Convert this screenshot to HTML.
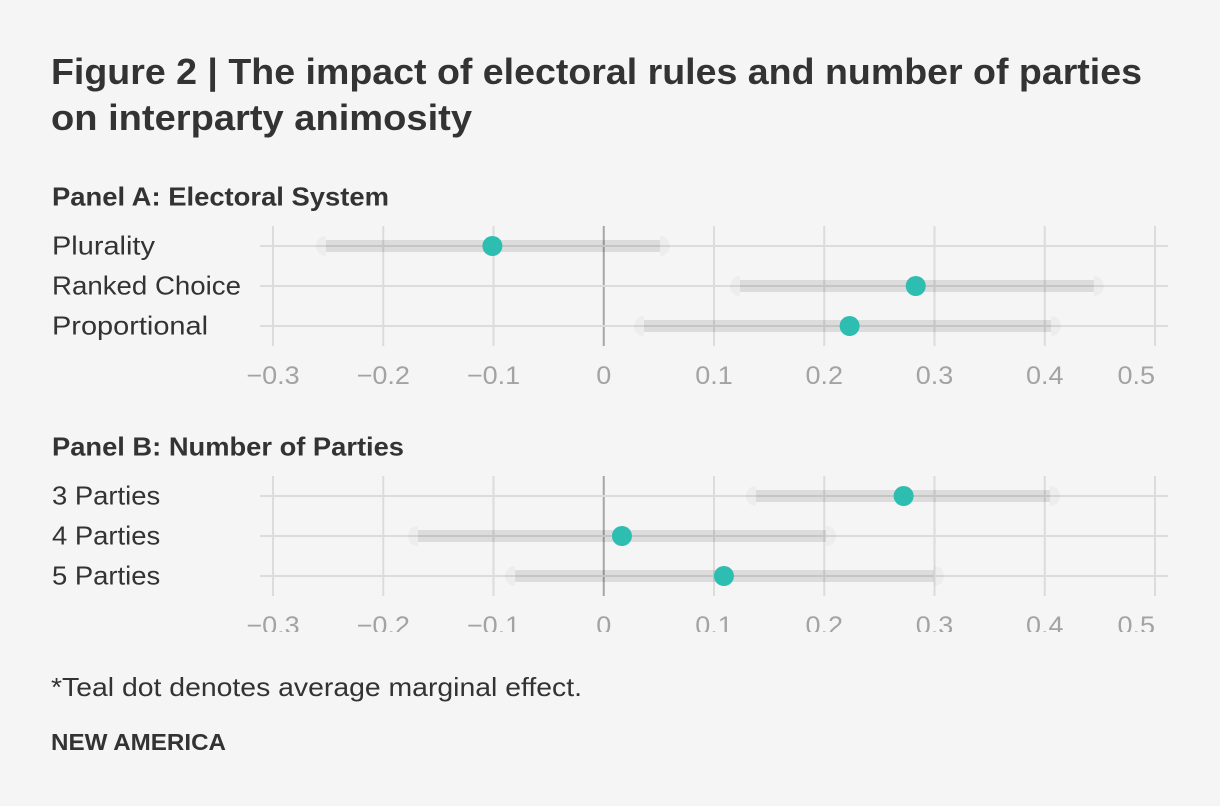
<!DOCTYPE html>
<html lang="en">
<head>
<meta charset="utf-8">
<title>Figure 2</title>
<style>
html,body{margin:0;padding:0;background:#f5f5f5;}
body{width:1220px;height:806px;overflow:hidden;}
svg{display:block;font-family:"Liberation Sans",sans-serif;}
</style>
</head>
<body>
<svg id="chart" width="1220" height="806" viewBox="0 0 1220 806">
  <defs>
    <clipPath id="clip-b"><rect x="0" y="440" width="1220" height="192"></rect></clipPath>
  </defs>
  <rect width="1220" height="806" fill="#f5f5f5"></rect>
  <text x="51" y="84" font-size="36" font-weight="700" fill="#333" textLength="1091" lengthAdjust="spacingAndGlyphs">Figure 2 | The impact of electoral rules and number of parties</text>
  <text x="51" y="130" font-size="36" font-weight="700" fill="#333" textLength="421" lengthAdjust="spacingAndGlyphs">on interparty animosity</text>
  <text x="52" y="205.5" font-size="26" font-weight="700" fill="#333" textLength="337" lengthAdjust="spacingAndGlyphs">Panel A: Electoral System</text>
  <text x="52" y="455.5" font-size="26" font-weight="700" fill="#333" textLength="352" lengthAdjust="spacingAndGlyphs">Panel B: Number of Parties</text>
  <g id="panel-a"></g>
  <g id="panel-b"></g>
  <text x="51" y="696" font-size="26" fill="#333" textLength="531" lengthAdjust="spacingAndGlyphs">*Teal dot denotes average marginal effect.</text>
  <text x="51" y="750" font-size="23" font-weight="700" fill="#333" textLength="175" lengthAdjust="spacingAndGlyphs">NEW AMERICA</text>
</svg>
<script>
const ticks = [-0.3, -0.2, -0.1, 0, 0.1, 0.2, 0.3, 0.4, 0.5];
const tickLabels = ['\u22120.3', '\u22120.2', '\u22120.1', '0', '0.1', '0.2', '0.3', '0.4', '0.5'];
const panelACategories = ['Plurality', 'Ranked Choice', 'Proportional'];
const panelALow = [-0.252, 0.1236, 0.0365];
const panelAMid = [-0.101, 0.283, 0.223];
const panelAHigh = [0.051, 0.4445, 0.4057];
const panelBCategories = ['3 Parties', '4 Parties', '5 Parties'];
const panelBLow = [0.138, -0.1685, -0.0805];
const panelBMid = [0.272, 0.0165, 0.109];
const panelBHigh = [0.4048, 0.2016, 0.2995];

const NS = 'http://www.w3.org/2000/svg';
function xScale(v) { return 603.75 + v * 1102.5; }
function make(parent, tag, attrs) {
  const el = document.createElementNS(NS, tag);
  for (const k in attrs) el.setAttribute(k, attrs[k]);
  parent.appendChild(el);
  return el;
}
function stretch(el, factor) {
  el.setAttribute('textLength', el.getComputedTextLength() * factor);
  el.setAttribute('lengthAdjust', 'spacingAndGlyphs');
}
function labelStretch(text) {
  if (text === 'Ranked Choice') return 1.063;
  if (text.indexOf('Parties') >= 0) return 1.055;
  return 1.113;
}
function halfCap(cx, y, side) {
  const r = 10;
  return 'M' + cx + ' ' + (y - r) + 'A' + r + ' ' + r + ' 0 0 ' + (side < 0 ? 0 : 1) + ' ' + cx + ' ' + (y + r) + 'Z';
}
function drawPanel(group, top, categories, low, mid, high, clip) {
  const yScale = function (i) { return top + 20 + i * 40; };
  const bottom = top + 120;

  ticks.forEach(function (t, i) {
    const isZero = t === 0;
    const isLast = i === ticks.length - 1;
    const line = make(group, 'line', {
      x1: xScale(t), x2: xScale(t), y1: top, y2: bottom,
      stroke: isZero ? '#a6a6a6' : '#dcdcdc', 'stroke-width': 2
    });
    
    
    const label = make(group, 'text', {
      x: xScale(t), y: bottom + 38, 'text-anchor': isLast ? 'end' : 'middle',
      'font-size': 25, fill: '#a3a3a3'
    });
    label.textContent = tickLabels[i];
    stretch(label, 1.08);
    if (clip) label.setAttribute('clip-path', clip);
    
    
  });

  categories.forEach(function (c, i) {
    const y = yScale(i);
    const row = make(group, 'line', {
      x1: 260, x2: 1168, y1: y, y2: y, stroke: '#dcdcdc', 'stroke-width': 2
    });
    
    

    const label = make(group, 'text', {
      x: 52, y: y + 8.5, 'font-size': 26, fill: '#333'
    });
    label.textContent = c;
    stretch(label, labelStretch(c));
    
    

    const capLow = make(group, 'path', {
      d: halfCap(xScale(low[i]), y, -1), fill: 'rgba(0,0,0,0.03)'
    });
    
    

    const capHigh = make(group, 'path', {
      d: halfCap(xScale(high[i]), y, 1), fill: 'rgba(0,0,0,0.03)'
    });
    
    

    const bar = make(group, 'rect', {
      x: xScale(low[i]), y: y - 6,
      width: xScale(high[i]) - xScale(low[i]), height: 12,
      fill: 'rgba(0,0,0,0.1)'
    });
    
    

    const dot = make(group, 'circle', {
      cx: xScale(mid[i]), cy: y, r: 10, fill: '#2ebdb1'
    });
    
    
  });
}
drawPanel(document.getElementById('panel-a'), 226, panelACategories, panelALow, panelAMid, panelAHigh, null);
drawPanel(document.getElementById('panel-b'), 476, panelBCategories, panelBLow, panelBMid, panelBHigh, 'url(#clip-b)');
</script>
</body>
</html>
